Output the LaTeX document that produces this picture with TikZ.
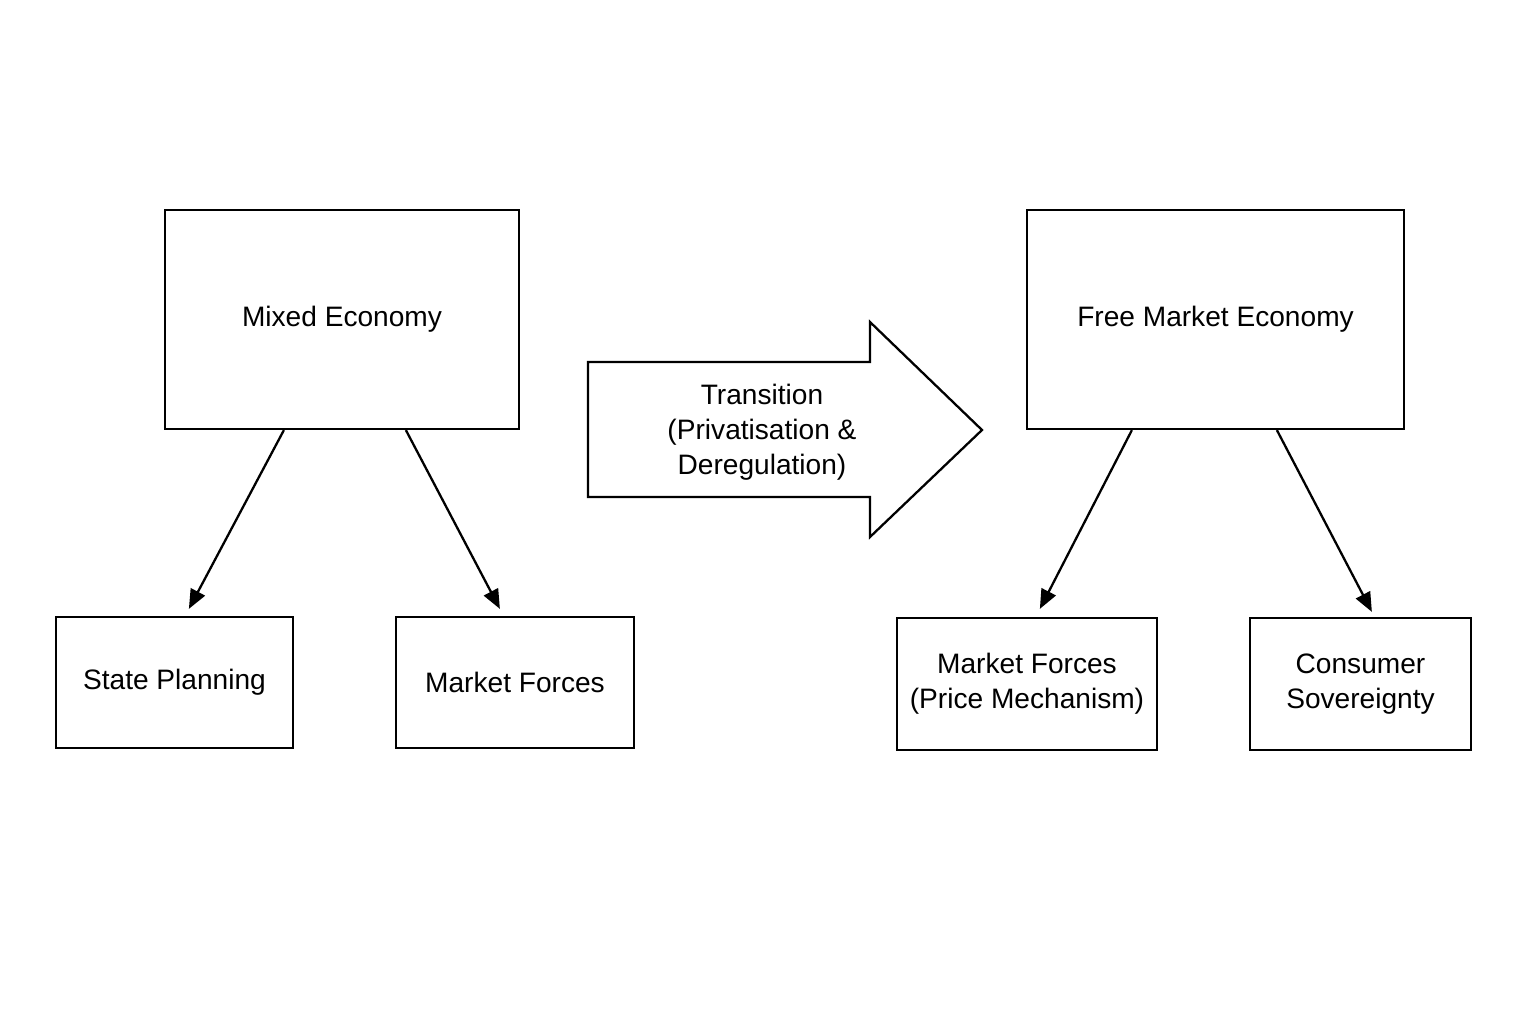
\documentclass[tikz,border=0pt]{standalone}
\usepackage{fontspec}
\setmainfont{Liberation Sans}
\usetikzlibrary{calc,arrows.meta}
\begin{document}
\begin{tikzpicture}[x=0.02cm,y=-0.02cm,
  box/.style={draw,line width=1.3pt,inner sep=0pt,align=center,font=\fontsize{16}{20}\selectfont},
  arr/.style={line width=1.3pt,-{Triangle[length=11pt,width=9pt]}}]
\useasboundingbox (0,0) rectangle (1536,1024);
\node[box,minimum width=354\pgflinewidth,minimum width=7.08cm,minimum height=4.38cm] (mixed) at (342,319.5) {Mixed Economy};
\node[box,minimum width=7.54cm,minimum height=4.38cm] (free) at (1215.5,319.5) {Free Market Economy};
\node[box,minimum width=4.74cm,minimum height=2.62cm] (sp) at (174.5,682.5) {State Planning};
\node[box,minimum width=4.76cm,minimum height=2.62cm] (mf) at (515,682.5) {Market Forces};
\node[box,minimum width=5.2cm,minimum height=2.64cm] (pm) at (1027,684) {Market Forces\\(Price Mechanism)};
\node[box,minimum width=4.42cm,minimum height=2.64cm] (cs) at (1360.5,684) {Consumer\\Sovereignty};
\draw[line width=1.3pt,line join=miter] (588,362) -- (870,362) -- (870,322) -- (982,430) -- (870,537) -- (870,497) -- (588,497) -- cycle;
\node[align=center,font=\fontsize{16}{20}\selectfont] (tr) at (762,432) {Transition\\(Privatisation \&\\Deregulation)};
\draw[arr] ($(mixed.south west)+(120,0)$) -- ($(sp.north west)+(134,-7)$);
\draw[arr] ($(mixed.south west)+(242,0)$) -- ($(mf.north west)+(105,-7)$);
\draw[arr] ($(free.south west)+(106,0)$) -- ($(pm.north west)+(144,-8)$);
\draw[arr] ($(free.south west)+(251,0)$) -- ($(cs.north west)+(123,-5)$);
\end{tikzpicture}
\end{document}
